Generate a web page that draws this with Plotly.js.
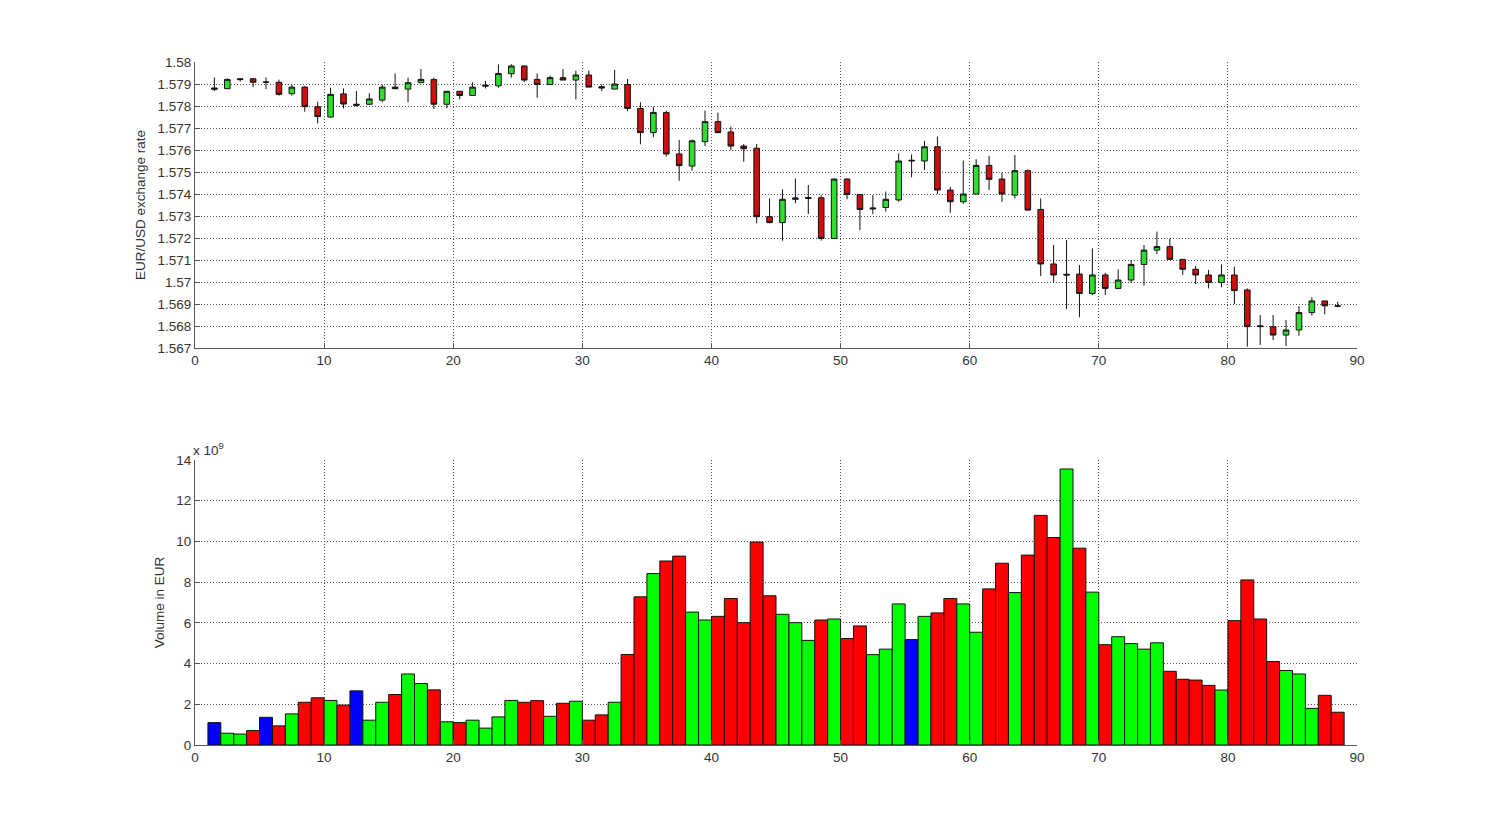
<!DOCTYPE html>
<html>
<head>
<meta charset="utf-8">
<script src="https://cdn.plot.ly/plotly-3.0.1.min.js"></script>
<style>html,body{margin:0;padding:0;background:#fff;}#chart{width:1500px;height:837px;}</style>
</head>
<body>
<div id="chart"></div>
<script>
// ---- Data ----
const openPrice = [1.57882,1.57879,1.57920,1.57924,1.57908,1.57908,1.57856,1.57886,1.57797,1.57750,
1.57855,1.57808,1.57808,1.57827,1.57886,1.57877,1.57906,1.57921,1.57808,1.57867,
1.57848,1.57890,1.57892,1.57947,1.57982,1.57921,1.57898,1.57929,1.57918,1.57941,
1.57888,1.57877,1.57898,1.57789,1.57679,1.57770,1.57582,1.57527,1.57638,1.57729,
1.57682,1.57618,1.57608,1.57297,1.57270,1.57376,1.57384,1.57383,1.57198,1.57468,
1.57398,1.57332,1.57339,1.57373,1.57550,1.57550,1.57615,1.57418,1.57365,1.57400,
1.57530,1.57468,1.57395,1.57506,1.57330,1.57082,1.57035,1.57036,1.56948,1.57032,
1.56971,1.57009,1.57080,1.57145,1.57161,1.57103,1.57058,1.57032,1.56998,1.57032,
1.56964,1.56797,1.56797,1.56759,1.56782,1.56861,1.56914,1.56890];
const highPrice = [1.57930,1.57926,1.57927,1.57927,1.57930,1.57920,1.57898,1.57890,1.57820,1.57883,
1.57880,1.57868,1.57858,1.57898,1.57948,1.57929,1.57968,1.57929,1.57868,1.57867,
1.57908,1.57914,1.57989,1.57990,1.57985,1.57948,1.57938,1.57968,1.57961,1.57961,
1.57898,1.57964,1.57923,1.57817,1.57797,1.57779,1.57645,1.57648,1.57779,1.57770,
1.57706,1.57627,1.57627,1.57380,1.57421,1.57471,1.57441,1.57395,1.57471,1.57471,
1.57398,1.57395,1.57411,1.57585,1.57580,1.57642,1.57661,1.57433,1.57552,1.57558,
1.57573,1.57497,1.57577,1.57512,1.57380,1.57168,1.57191,1.57077,1.57153,1.57042,
1.57058,1.57100,1.57168,1.57229,1.57198,1.57103,1.57073,1.57055,1.57080,1.57070,
1.56971,1.56850,1.56850,1.56827,1.56891,1.56930,1.56914,1.56910];
const lowPrice = [1.57868,1.57877,1.57910,1.57886,1.57877,1.57847,1.57847,1.57774,1.57721,1.57747,
1.57789,1.57797,1.57805,1.57817,1.57877,1.57817,1.57906,1.57786,1.57789,1.57830,
1.57848,1.57880,1.57883,1.57929,1.57908,1.57838,1.57898,1.57918,1.57830,1.57886,
1.57868,1.57877,1.57777,1.57626,1.57658,1.57570,1.57460,1.57506,1.57618,1.57679,
1.57600,1.57547,1.57267,1.57267,1.57188,1.57358,1.57309,1.57188,1.57198,1.57376,
1.57236,1.57309,1.57320,1.57365,1.57476,1.57509,1.57400,1.57315,1.57355,1.57400,
1.57418,1.57365,1.57380,1.57324,1.57027,1.56997,1.56877,1.56840,1.56941,1.56941,
1.56967,1.56997,1.56983,1.57127,1.57103,1.57032,1.56991,1.56971,1.56976,1.56900,
1.56706,1.56714,1.56736,1.56709,1.56756,1.56847,1.56853,1.56885];
const closePrice = [1.57876,1.57921,1.57923,1.57908,1.57909,1.57853,1.57886,1.57797,1.57752,1.57853,
1.57809,1.57804,1.57832,1.57886,1.57879,1.57906,1.57921,1.57808,1.57867,1.57848,
1.57886,1.57894,1.57948,1.57982,1.57918,1.57898,1.57929,1.57918,1.57941,1.57886,
1.57882,1.57900,1.57789,1.57679,1.57771,1.57582,1.57529,1.57642,1.57729,1.57679,
1.57618,1.57606,1.57297,1.57270,1.57376,1.57382,1.57380,1.57198,1.57468,1.57398,
1.57330,1.57336,1.57376,1.57550,1.57553,1.57615,1.57418,1.57365,1.57400,1.57530,
1.57467,1.57400,1.57506,1.57327,1.57082,1.57032,1.57032,1.56948,1.57032,1.56971,
1.57009,1.57080,1.57145,1.57161,1.57103,1.57058,1.57032,1.56998,1.57032,1.56961,
1.56797,1.56800,1.56759,1.56782,1.56861,1.56914,1.56892,1.56891];
// Volume in units of 10^9 EUR
const volume = [1.10,0.58,0.54,0.71,1.36,0.94,1.53,2.10,2.32,2.19,
1.96,2.66,1.22,2.10,2.48,3.49,3.02,2.71,1.14,1.10,
1.22,0.83,1.38,2.19,2.10,2.18,1.41,2.05,2.15,1.22,
1.48,2.10,4.45,7.28,8.42,9.04,9.28,6.53,6.14,6.32,
7.20,6.01,9.97,7.33,6.42,6.01,5.14,6.14,6.19,5.23,
5.85,4.44,4.71,6.93,5.18,6.32,6.49,7.20,6.93,5.54,
7.67,8.93,7.49,9.33,11.28,10.19,13.56,9.67,7.51,4.93,
5.32,4.98,4.71,5.02,3.62,3.23,3.19,2.93,2.70,6.11,
8.11,6.19,4.10,3.66,3.49,1.80,2.44,1.61];
const volumeClass = ['b','g','g','r','b','r','g','r','r','g',
'r','b','g','g','r','g','g','r','g','r',
'g','g','g','g','r','r','g','r','g','r',
'r','g','r','r','g','r','r','g','g','r',
'r','r','r','r','g','g','g','r','g','r',
'r','g','g','g','b','g','r','r','g','g',
'r','r','g','r','r','r','g','r','g','r',
'g','g','g','g','r','r','r','r','g','r',
'r','r','r','g','g','g','r','r'];
const priceTickVals = [1.567,1.568,1.569,1.570,1.571,1.572,1.573,1.574,1.575,1.576,1.577,1.578,1.579,1.580];
const priceTickText = ['1.567','1.568','1.569','1.57','1.571','1.572','1.573','1.574','1.575','1.576','1.577','1.578','1.579','1.58'];

// ---- Build ----
const xPos = openPrice.map((_, i) => i + 1.5);
const classColor = {b: '#0000ff', g: '#00ff00', r: '#ff0000'};
const FONT = {family: 'Liberation Sans, Arial, sans-serif', size: 13.5, color: '#333'};

const candles = {
  type: 'candlestick', x: xPos, open: openPrice, high: highPrice, low: lowPrice, close: closePrice,
  xaxis: 'x', yaxis: 'y', showlegend: false, hoverinfo: 'none',
  increasing: {line: {color: '#111', width: 1}, fillcolor: '#2ee02e'},
  decreasing: {line: {color: '#111', width: 1}, fillcolor: '#cc1010'},
  whiskerwidth: 0
};
const bars = {
  type: 'bar', x: xPos, y: volume, xaxis: 'x2', yaxis: 'y2', showlegend: false, hoverinfo: 'none',
  width: 1,
  marker: {color: volumeClass.map(c => classColor[c]), line: {color: '#111', width: 1}}
};

const gridStyle = {showgrid: true, gridcolor: '#555', griddash: '1px,2px', gridwidth: 1, zeroline: false};
const axisBase = Object.assign({
  showline: true, linecolor: '#555', linewidth: 1, ticks: 'inside', ticklen: 5, tickcolor: '#555',
  tickfont: FONT, mirror: false, fixedrange: true
}, gridStyle);
const xDomain = [0.13, 0.9047];

const layout = {
  width: 1500, height: 837, paper_bgcolor: '#fff', plot_bgcolor: '#fff',
  margin: {l: 0, r: 0, t: 0, b: 0},
  font: FONT, showlegend: false, boxgap: 0.38,
  xaxis: Object.assign({}, axisBase, {domain: xDomain, range: [0, 90], dtick: 10, tick0: 0, anchor: 'y', rangeslider: {visible: false}}),
  yaxis: Object.assign({}, axisBase, {domain: [0.5842, 0.9259], range: [1.567, 1.58], tickvals: priceTickVals, ticktext: priceTickText, anchor: 'x',
    title: {text: 'EUR/USD exchange rate', font: FONT, standoff: 8}}),
  xaxis2: Object.assign({}, axisBase, {domain: xDomain, range: [0, 90], dtick: 10, tick0: 0, anchor: 'y2'}),
  yaxis2: Object.assign({}, axisBase, {domain: [0.1099, 0.4504], range: [0, 14], dtick: 2, tick0: 0, anchor: 'x2',
    title: {text: 'Volume in EUR', font: FONT, standoff: 8}}),
  annotations: [{xref: 'paper', yref: 'paper', x: 0.1275, y: 0.4504, xanchor: 'left', yanchor: 'bottom',
    text: 'x 10<sup>9</sup>', showarrow: false, font: FONT}]
};

Plotly.newPlot('chart', [candles, bars], layout, {displayModeBar: false, staticPlot: true});
</script>
</body>
</html>
